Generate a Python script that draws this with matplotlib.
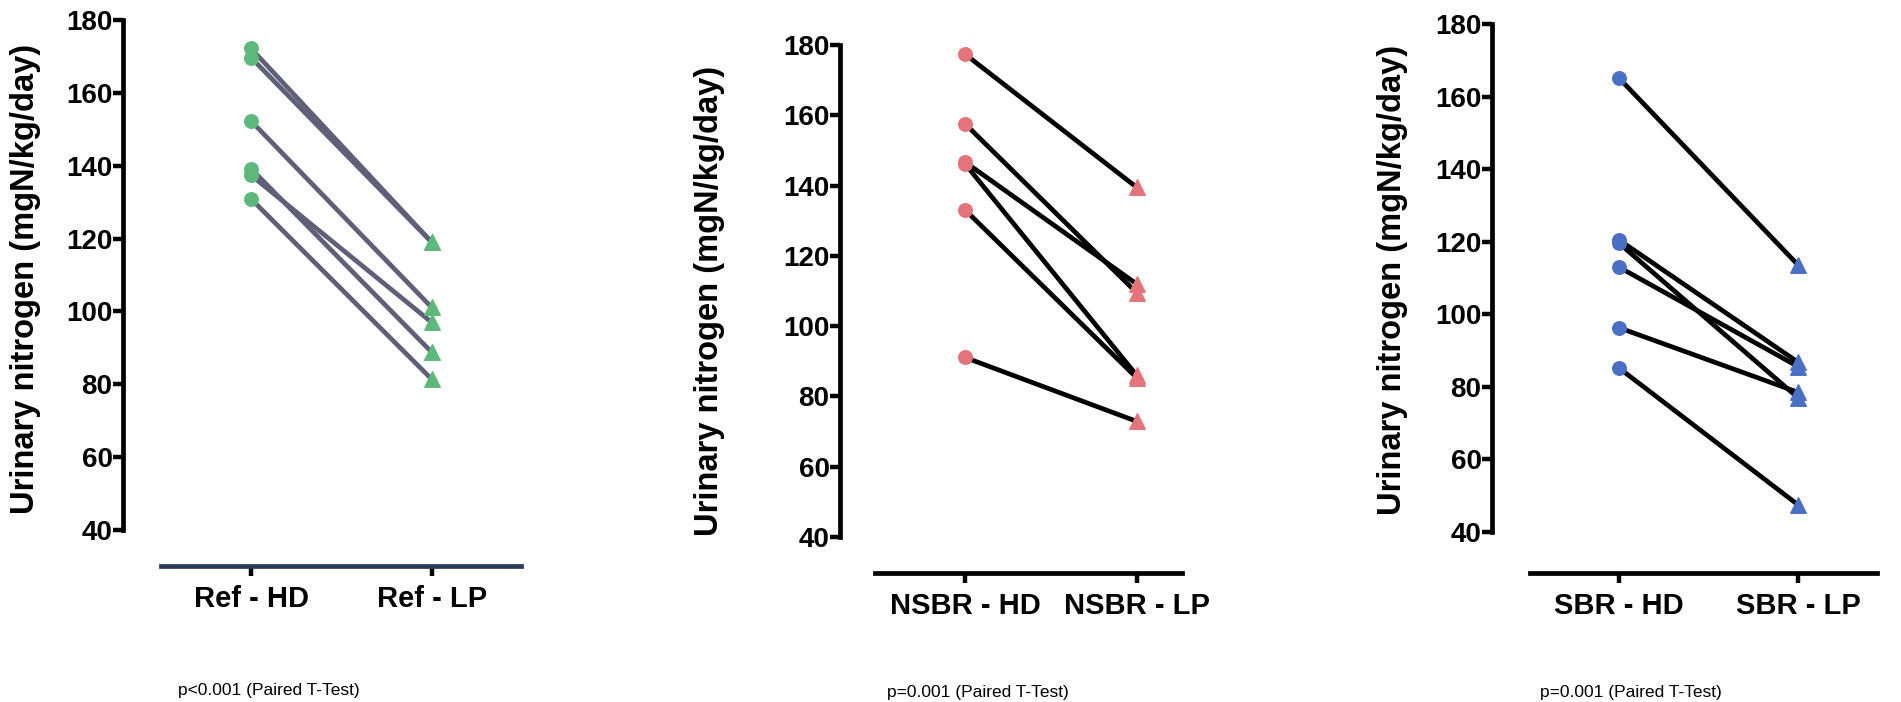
import numpy as np
import matplotlib.pyplot as plt

plt.rcParams['font.family'] = ['Liberation Sans', 'DejaVu Sans']

# Данные: значения до (HD) и после (LP) для каждой группы
ref_hd = [172.2, 169.7, 152.3, 139.2, 137.4, 130.9]
ref_lp = [119.0, 119.0, 101.1, 88.8, 97.0, 81.4]

nsbr_hd = [177.4, 157.6, 146.7, 146.2, 133.1, 91.1]
nsbr_lp = [139.5, 109.5, 112.0, 86.0, 85.3, 72.9]

sbr_hd = [165.1, 120.5, 119.6, 113.0, 96.3, 85.2]
sbr_lp = [113.6, 86.8, 77.0, 85.6, 78.5, 47.5]

group_names = ['Ref', 'NSBR', 'SBR']
cond_names = ['HD', 'LP']
p_texts = ['p<0.001 (Paired T-Test)', 'p=0.001 (Paired T-Test)', 'p=0.001 (Paired T-Test)']
y_ticks = np.arange(40, 181, 20)
y_label = 'Urinary nitrogen (mgN/kg/day)'

W, H = 1901, 702
fig = plt.figure(figsize=(W / 100, H / 100), dpi=100)

# Разметка в пикселях (y-ось, 180/40, x-ось, позиции HD/LP, концы x-оси)
layout = [
    dict(ax_x=123, y180=20, y40=530, xa_y=566, hd_x=251, lp_x=431.7, xs=161, xe=521,
         lab=(26, 279), ptxt=(178, 691), mk='#5cb97b', ln='#5f5f78', xcol='#2c3b58'),
    dict(ax_x=840, y180=45, y40=537, xa_y=573, hd_x=965, lp_x=1136.7, xs=875, xe=1182,
         lab=(709, 301), ptxt=(887, 693), mk='#e5737a', ln='black', xcol='black'),
    dict(ax_x=1492, y180=24, y40=532, xa_y=573, hd_x=1619, lp_x=1798, xs=1530, xe=1877,
         lab=(1393, 280), ptxt=(1540, 693), mk='#4a70c6', ln='black', xcol='black'),
]
data = [(ref_hd, ref_lp), (nsbr_hd, nsbr_lp), (sbr_hd, sbr_lp)]

for name, (hd, lp), L, ptxt in zip(group_names, data, layout, p_texts):
    unit = (L['y40'] - L['y180']) / 140.0
    ymin = 40 - (L['xa_y'] - L['y40']) / unit
    xunit = L['lp_x'] - L['hd_x']
    xmin = (L['ax_x'] - L['hd_x']) / xunit
    xmax = (L['xe'] - L['hd_x']) / xunit

    ax = fig.add_axes([L['ax_x'] / W, 1 - L['xa_y'] / H,
                       (L['xe'] - L['ax_x']) / W, (L['xa_y'] - L['y180']) / H])
    ax.set_xlim(xmin, xmax)
    ax.set_ylim(ymin, 180)
    ax.patch.set_alpha(0)

    for s in ['top', 'right']:
        ax.spines[s].set_visible(False)
    ax.spines['left'].set_bounds(40, 180)
    ax.spines['left'].set_linewidth(3.4)
    ax.spines['bottom'].set_bounds((L['xs'] - L['hd_x']) / xunit, xmax)
    ax.spines['bottom'].set_linewidth(3.4)
    ax.spines['bottom'].set_color(L['xcol'])

    ax.set_yticks(y_ticks)
    ax.set_yticklabels([str(t) for t in y_ticks], fontsize=20, fontweight='bold')
    ax.tick_params(axis='y', direction='out', length=7, width=3.2, pad=0.5)
    ax.set_xticks([0, 1])
    ax.set_xticklabels([f'{name} - {c}' for c in cond_names], fontsize=21, fontweight='bold')
    ax.tick_params(axis='x', direction='out', length=7, width=3.2, pad=7)

    # Парные линии
    for h, l in zip(hd, lp):
        ax.plot([0, 1], [h, l], color=L['ln'], lw=3.4, zorder=2, clip_on=False)
    ax.scatter(np.zeros(len(hd)), hd, s=95, marker='o', color=L['mk'], zorder=3, clip_on=False)
    ax.scatter(np.ones(len(lp)), lp, s=125, marker='^', color=L['mk'], zorder=3, clip_on=False)

    fig.text(L['lab'][0] / W, 1 - L['lab'][1] / H, y_label, rotation=90,
             ha='center', va='center', fontsize=23.5, fontweight='bold')
    fig.text(L['ptxt'][0] / W, 1 - L['ptxt'][1] / H, ptxt, ha='left', va='center', fontsize=12.5)

fig.savefig('out.png', dpi=100)
